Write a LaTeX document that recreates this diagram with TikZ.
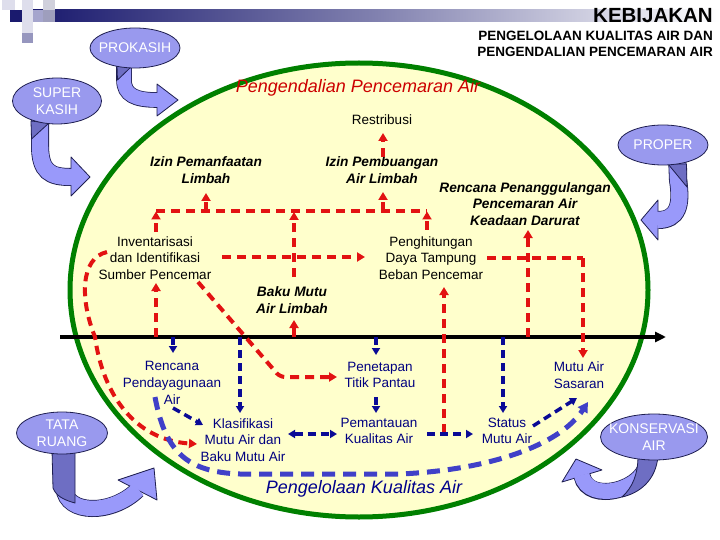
\documentclass[tikz,border=0pt]{standalone}
\usepackage{fontspec}
\setmainfont{Liberation Sans}
\usetikzlibrary{arrows.meta,shapes.geometric}
\definecolor{sqnavy}{RGB}{26,26,110}
\definecolor{sqpale}{RGB}{222,222,236}
\definecolor{sqmed}{RGB}{165,165,205}
\definecolor{sqgrey}{RGB}{150,150,190}
\definecolor{ellfill}{RGB}{153,153,238}
\definecolor{ellline}{RGB}{30,30,80}
\definecolor{arrfill}{RGB}{153,153,250}
\definecolor{arrdark}{RGB}{110,110,195}
\definecolor{bigfill}{RGB}{255,255,204}
\definecolor{biggreen}{RGB}{0,128,0}
\definecolor{redd}{RGB}{226,18,18}
\definecolor{blued}{RGB}{10,10,150}
\definecolor{bluew}{RGB}{64,64,200}
\definecolor{navytxt}{RGB}{0,0,128}
\definecolor{titlered}{RGB}{204,0,0}
\definecolor{titleblue}{RGB}{0,0,140}
\begin{document}
\begin{tikzpicture}[x=1pt,y=-1pt,
  txt/.style={inner sep=0pt, align=center, font=\fontsize{13.5}{16.7}\selectfont},
  txtb/.style={inner sep=0pt, align=center, font=\fontsize{13.7}{16.7}\selectfont\bfseries\itshape},
  txtn/.style={txt, text=navytxt},
  bigtitle/.style={inner sep=0pt, font=\fontsize{18}{20}\selectfont\itshape},
  ellbox/.style={ellipse, draw=ellline, line width=0.8pt, fill=ellfill, inner sep=0pt},
  elltxt/.style={inner sep=0pt, align=center, text=white, font=\fontsize{14}{16.5}\selectfont},
  reddash/.style={draw=redd, line width=4pt, dash pattern=on 9pt off 6pt, -{Triangle[length=8pt,width=9pt]}},
  rednoarr/.style={draw=redd, line width=4pt, dash pattern=on 9pt off 6pt},
  bluedash/.style={draw=blued, line width=3.5pt, dash pattern=on 8pt off 5pt, -{Triangle[length=7pt,width=8pt]}},
  bluedouble/.style={draw=blued, line width=3.5pt, dash pattern=on 8pt off 5pt, {Triangle[length=7pt,width=8pt]}-{Triangle[length=7pt,width=8pt]}},
  widedash/.style={draw=bluew, line width=5pt, dash pattern=on 13pt off 8pt, -{Triangle[length=10pt,width=11pt]}},
  bandout/.style={draw=ellline, line width=#1},
  bandin/.style={draw=arrfill, line width=#1},
  headst/.style={fill=arrfill, draw=ellline, line width=0.8pt, line join=round},
  twist/.style={fill=arrdark, draw=ellline, line width=0.8pt, line join=round}
]
\useasboundingbox (0,0) rectangle (720,540);
\fill[white] (0,0) rectangle (720,540);

% header band and squares
\shade[left color=sqnavy, right color=white, middle color=sqnavy!55!white] (33,10) rectangle (720,22);
\fill[sqpale] (2,0) rectangle (15,10);
\fill[sqpale] (22,0) rectangle (33,10);
\fill[sqpale!85!gray] (43,0) rectangle (55,10);
\fill[sqnavy] (10,10) rectangle (22,22);
\fill[sqpale] (22,10) rectangle (33,22);
\fill[sqmed] (33,10) rectangle (43,22);
\fill[sqmed!80!gray] (43,10) rectangle (55,22);
\fill[sqpale] (22,22) rectangle (33,33);
\fill[sqgrey] (22,33) rectangle (33,43);

\node[anchor=east, inner sep=0pt, font=\fontsize{20.5}{22}\selectfont\bfseries] (keb) at (713,16) {KEBIJAKAN};
\node[anchor=east, inner sep=0pt, align=right, font=\fontsize{13.5}{16.5}\selectfont\bfseries] (pkpp) at (713,44) {PENGELOLAAN KUALITAS AIR DAN\\PENGENDALIAN PENCEMARAN AIR};

% big ellipse
\draw[draw=biggreen, line width=5pt, fill=bigfill] (359,290) ellipse [x radius=289pt, y radius=227pt];
\coordinate (big) at (359,290);

% curved block arrows
% PROKASIH
\draw[bandout=15.6pt] (124,55) -- (124,80) .. controls (124,95) and (135,100) .. (157,100);
\filldraw[headst] (157,84) -- (178,100) -- (157,116) -- cycle;
\draw[bandin=14pt] (124,55) -- (124,80) .. controls (124,95) and (135,100) .. (158,100);
\filldraw[twist] (117,66) -- (131,67) -- (117.5,80) -- cycle;
% SUPER KASIH
\draw[bandout=18pt] (40,112) -- (40,145) .. controls (40,172) and (50,177) .. (71,177);
\filldraw[headst] (71,157) -- (90,177) -- (71,196) -- cycle;
\draw[bandin=16.4pt] (40,112) -- (40,145) .. controls (40,172) and (50,177) .. (72,177);
\filldraw[twist] (31,121) -- (49,123) -- (31.5,139) -- cycle;
% PROPER
\draw[bandout=18pt] (677,155) -- (678,180) .. controls (682,205) and (678,220) .. (658,220);
\filldraw[headst] (658,200) -- (641,220) -- (658,240) -- cycle;
\draw[bandin=16.4pt] (677,155) -- (678,180) .. controls (682,205) and (678,220) .. (657,220);
\filldraw[twist] (668,164) -- (686.5,164) -- (687,187) -- cycle;
% TATA RUANG
\draw[bandout=17pt] (64,445) -- (64,488) .. controls (66,515) and (112,515) .. (137.5,490);
\filldraw[headst] (118,480) -- (154,468) -- (157,500) -- cycle;
\draw[bandin=15.4pt] (64,445) -- (64,488) .. controls (66,515) and (112,515) .. (138.2,489.3);
\filldraw[twist] (52,450) -- (75,450) -- (75,503) .. controls (64,500) and (56,496) .. (53,488) -- cycle;
% KONSERVASI AIR
\draw[bandout=17pt] (648,450) -- (648,458) .. controls (648,490) and (588,505) .. (582,476);
\filldraw[headst] (602,470) -- (576,459) -- (562,482) -- cycle;
\draw[bandin=15.4pt] (648,450) -- (648,458) .. controls (648,490) and (588,505) .. (581.8,475);
\filldraw[twist] (638,456) -- (658,456) .. controls (656,480) and (640,493) .. (622,497) .. controls (632,488) and (638,475) .. cycle;

% small ellipses
\node[ellbox, minimum width=90pt, minimum height=40pt] (prok) at (135,48) {};
\node[elltxt] (prokT) at (prok) {PROKASIH};
\node[ellbox, minimum width=89pt, minimum height=46pt] (sup) at (57,101) {};
\node[elltxt] (supT) at (sup) {SUPER\\KASIH};
\node[ellbox, minimum width=90pt, minimum height=40pt] (prop) at (663,145) {};
\node[elltxt] (propT) at (prop) {PROPER};
\node[ellbox, minimum width=91pt, minimum height=42pt] (tata) at (62,433) {};
\node[elltxt] (tataT) at (tata) {TATA\\RUANG};
\node[ellbox, minimum width=107pt, minimum height=46pt] (kons) at (654,437) {};
\node[elltxt] (konsT) at (kons) {KONSERVASI\\AIR};

% titles inside
\node[bigtitle, text=titlered] (ppa) at (358,88) {Pengendalian Pencemaran Air};
\node[bigtitle, text=titleblue] (pkaT) at (364,489) {Pengelolaan Kualitas Air};

% text nodes
\node[txt] (restr) at (382,120) {Restribusi};
\node[txtb] (izin1) at (206,170) {Izin Pemanfaatan\\Limbah};
\node[txtb] (izin2) at (382,170) {Izin Pembuangan\\Air Limbah};
\node[txtb] (rpen) at (525,204) {Rencana Penanggulangan\\Pencemaran Air\\Keadaan Darurat};
\node[txt] (inv) at (155,258) {Inventarisasi\\dan Identifikasi\\Sumber Pencemar};
\node[txt] (dtb) at (431,258) {Penghitungan\\Daya Tampung\\Beban Pencemar};
\node[txtb] (bml) at (292,300) {Baku Mutu\\Air Limbah};
\node[txtn] (rpa) at (172,383) {Rencana\\Pendayagunaan\\Air};
\node[txtn] (ptp) at (380,375) {Penetapan\\Titik Pantau};
\node[txtn] (mas) at (579,375) {Mutu Air\\Sasaran};
\node[txtn] (kla) at (243,440) {Klasifikasi\\Mutu Air dan\\Baku Mutu Air};
\node[txtn] (pka) at (379,431) {Pemantauan\\Kualitas Air};
\node[txtn] (sma) at (507,431) {Status\\Mutu Air};

% axis
\coordinate (axL) at (60,337);
\coordinate (axR) at (666,337);
\draw[line width=3.5pt, -{Triangle[length=11pt,width=10pt]}] (axL) -- (axR);

% junction coordinates
\coordinate (jL) at (156,211);
\coordinate (jR) at (427,211);
\coordinate (jA) at (206,211);
\coordinate (jB) at (294,211);
\coordinate (jC) at (383,211);

% red connectors
\draw[reddash] (156,232) -- (156,211.5);
\draw[rednoarr] (jL) -- (jR);
\draw[reddash] (jA) -- (206,193);
\draw[reddash] (294,277) -- (294,212);
\draw[reddash] (jC) -- (383,192);
\draw[reddash] (383,157) -- (383,133);
\draw[reddash] (427,230) -- (427,211.5);
\draw[reddash] (222,257) -- (365,257);
\draw[rednoarr] (487,258) -- (583,258);
\draw[reddash] (583,258) -- (583,358);
\draw[reddash] (528,337) -- (528,230);
\draw[reddash] (444,433) -- (444,287);
\draw[reddash] (156,337) -- (156,283);
\draw[reddash] (294,337) -- (294,320);
\draw[reddash, rounded corners=5pt] (198,282) -- (280,377) -- (337,377);
\draw[reddash] (107,252) .. controls (80,258) and (80,300) .. (95,337) .. controls (103,395) and (135,440) .. (197,444);

% blue connectors
\draw[bluedash] (173,337) -- (173,353);
\draw[bluedash] (240,337) -- (240,413);
\draw[bluedash] (173,408) -- (203,425);
\draw[bluedouble] (288,434) -- (337,434);
\draw[bluedash] (376,337) -- (376,355);
\draw[bluedash] (376,397) -- (376,413);
\draw[bluedash] (427,434) -- (473,434);
\draw[bluedash] (503,337) -- (503,413);
\draw[bluedash] (533,426) -- (577,398);
\draw[widedash] (155,397) .. controls (165,450) and (185,472) .. (240,474) -- (400,474) .. controls (490,470) and (560,445) .. (588,402);
\end{tikzpicture}
\end{document}
